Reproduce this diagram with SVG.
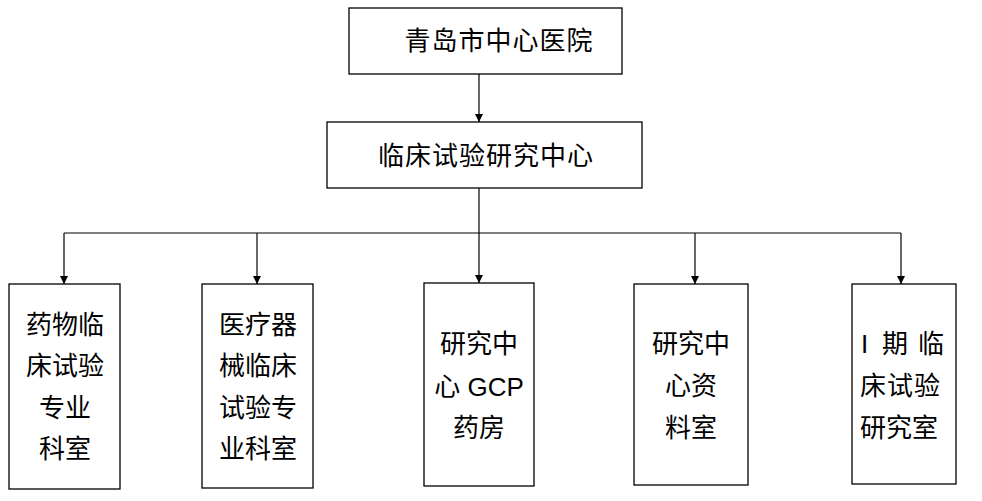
<svg xmlns="http://www.w3.org/2000/svg" width="982" height="501" viewBox="0 0 982 501">
<style>
.box{fill:#fff;stroke:#000;stroke-width:1.3}
.t{font-family:"Liberation Sans","Noto Sans CJK SC",sans-serif;font-size:26px;fill:#000;text-anchor:middle}
.ts{font-family:"Liberation Sans","Noto Sans CJK SC",sans-serif;font-size:26px;fill:#000;text-anchor:start}
.big{letter-spacing:1px}
.c{fill:none;stroke:#000;stroke-width:1.2}
</style>
<defs>
<marker id="ah" markerWidth="8" markerHeight="10" refX="8" refY="4" orient="auto" markerUnits="userSpaceOnUse" viewBox="0 0 8 8">
<path d="M0,0 L8,4 L0,8 Z" fill="#000"/>
</marker>
</defs>
<rect width="982" height="501" fill="#fff"/>
<g id="connectors">
<line class="c" x1="479" y1="74" x2="479" y2="122" marker-end="url(#ah)"/>
<polyline class="c" points="479,188 479,233"/>
<line class="c" x1="64" y1="233" x2="901" y2="233"/>
<line class="c" x1="64" y1="233" x2="64" y2="284" marker-end="url(#ah)"/>
<line class="c" x1="257" y1="233" x2="257" y2="284" marker-end="url(#ah)"/>
<line class="c" x1="479" y1="233" x2="479" y2="283" marker-end="url(#ah)"/>
<line class="c" x1="695" y1="233" x2="695" y2="284" marker-end="url(#ah)"/>
<line class="c" x1="901" y1="233" x2="901" y2="284" marker-end="url(#ah)"/>
</g>
<g id="n-hospital">
<rect class="box" x="349" y="8" width="273" height="66"/>
<text class="t big" x="499" y="50">青岛市中心医院</text>
</g>
<g id="n-center">
<rect class="box" x="327" y="122" width="315" height="66"/>
<text class="t big" x="486" y="165">临床试验研究中心</text>
</g>
<g id="n-drug">
<rect class="box" x="9" y="284" width="111" height="205"/>
<text class="t" x="65" y="334">药物临</text>
<text class="t" x="65" y="375">床试验</text>
<text class="t" x="65" y="417">专业</text>
<text class="t" x="65" y="458">科室</text>
</g>
<g id="n-device">
<rect class="box" x="202" y="284" width="111" height="204"/>
<text class="t" x="258" y="334">医疗器</text>
<text class="t" x="258" y="375">械临床</text>
<text class="t" x="258" y="417">试验专</text>
<text class="t" x="258" y="458">业科室</text>
</g>
<g id="n-pharmacy">
<rect class="box" x="424" y="283" width="110" height="203"/>
<text class="t" x="479" y="353">研究中</text>
<text class="t" x="479" y="396">心 GCP</text>
<text class="t" x="479" y="437">药房</text>
</g>
<g id="n-archive">
<rect class="box" x="634" y="284" width="114" height="201"/>
<text class="t" x="691" y="353">研究中</text>
<text class="t" x="691" y="395">心资</text>
<text class="t" x="691" y="437">料室</text>
</g>
<g id="n-phase1">
<rect class="box" x="852" y="284" width="104" height="200"/>
<text class="ts" x="861 868 882 906 918" y="353">I 期 临</text>
<text class="ts" x="860" y="395" letter-spacing="1">床试验</text>
<text class="ts" x="860" y="437">研究室</text>
</g>
</svg>
